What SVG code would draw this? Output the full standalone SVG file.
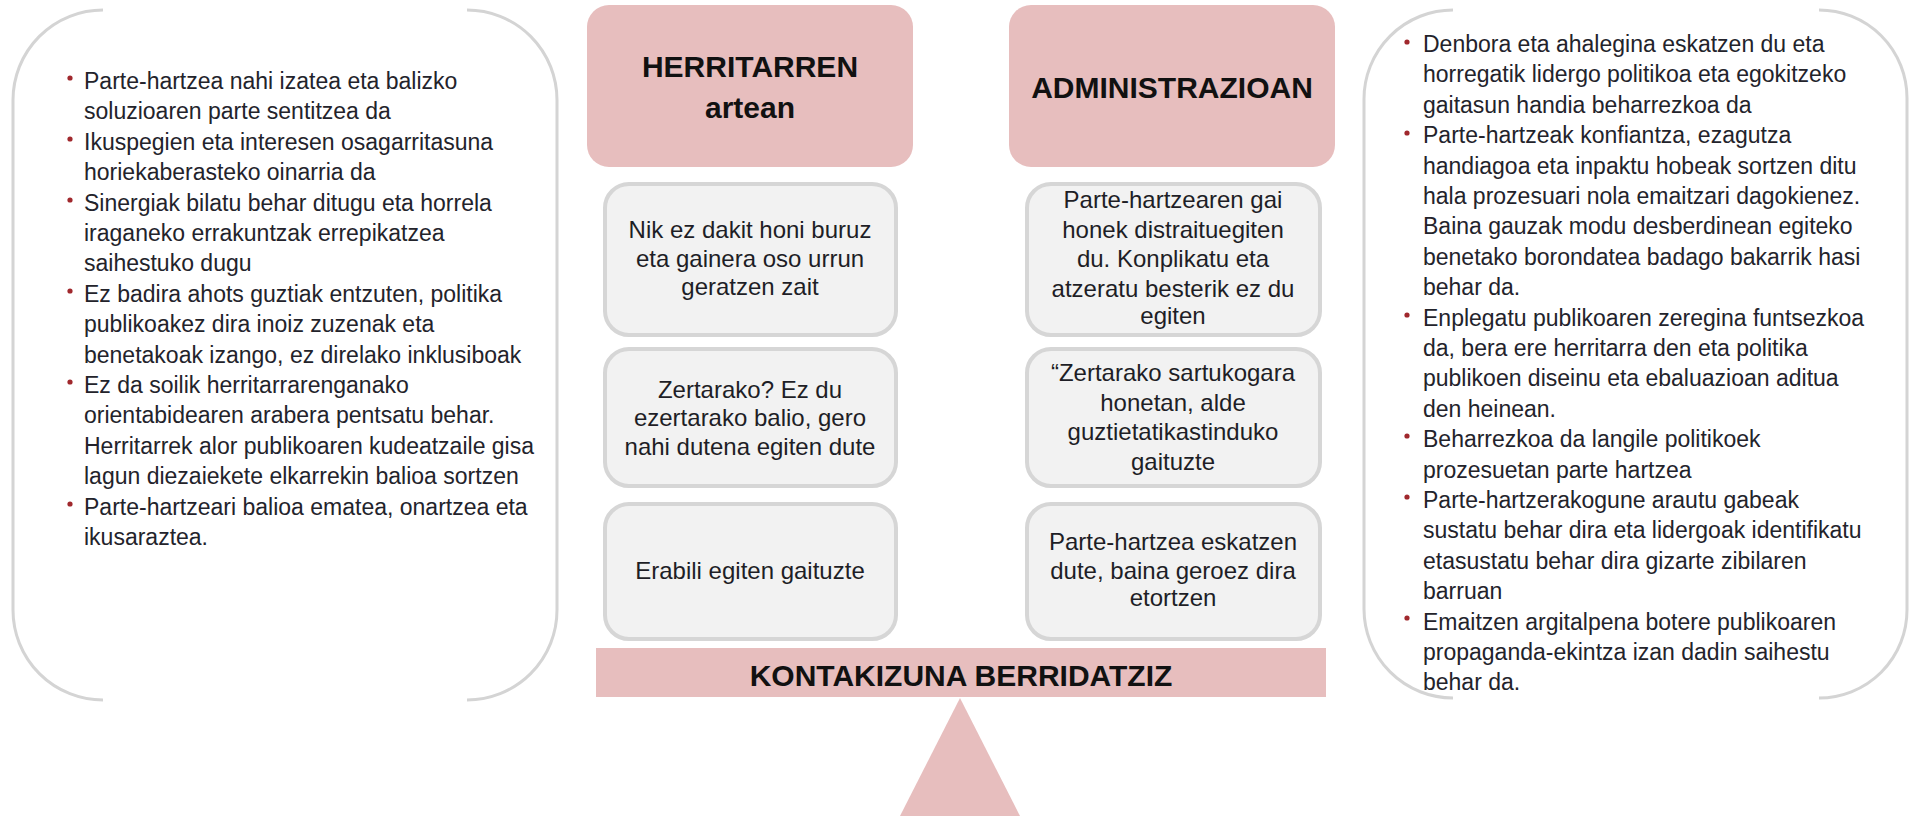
<svg xmlns="http://www.w3.org/2000/svg" width="1910" height="816" viewBox="0 0 1910 816">
<style>
  .bracket { fill: none; stroke: #d4d4d4; stroke-width: 3; }
  .body { font-family: "Liberation Sans", Arial, sans-serif; font-size: 23px; fill: #23232b; }
  .bullet { fill: #a0282d; }
  .head { fill: #e7bebe; }
  .headtxt { font-family: "Liberation Sans", Arial, sans-serif; font-size: 30px; font-weight: bold; fill: #111; text-anchor: middle; }
  .box { fill: #f2f2f2; stroke: #d6d6d6; stroke-width: 4; }
  .boxtxt { font-family: "Liberation Sans", Arial, sans-serif; font-size: 24px; fill: #1e1e26; text-anchor: middle; }
</style>
<rect x="0" y="0" width="1910" height="816" fill="#ffffff"/>

<g id="left-panel">
  <path class="bracket" d="M103,10 A90,90 0 0 0 13,100 L13,610 A90,90 0 0 0 103,700"/>
  <path class="bracket" d="M467,10 A90,90 0 0 1 557,100 L557,610 A90,90 0 0 1 467,700"/>
  <g class="bullet">
    <circle cx="70" cy="78" r="2.6"/>
    <circle cx="70" cy="139" r="2.6"/>
    <circle cx="70" cy="200" r="2.6"/>
    <circle cx="70" cy="291" r="2.6"/>
    <circle cx="70" cy="382" r="2.6"/>
    <circle cx="70" cy="504" r="2.6"/>
  </g>
  <text class="body" x="84" y="89">
    <tspan x="84" y="89">Parte-hartzea nahi izatea eta balizko</tspan>
    <tspan x="84" y="119.4">soluzioaren parte sentitzea da</tspan>
    <tspan x="84" y="149.8">Ikuspegien eta interesen osagarritasuna</tspan>
    <tspan x="84" y="180.2">horiekaberasteko oinarria da</tspan>
    <tspan x="84" y="210.6">Sinergiak bilatu behar ditugu eta horrela</tspan>
    <tspan x="84" y="241">iraganeko errakuntzak errepikatzea</tspan>
    <tspan x="84" y="271.4">saihestuko dugu</tspan>
    <tspan x="84" y="301.8">Ez badira ahots guztiak entzuten, politika</tspan>
    <tspan x="84" y="332.2">publikoakez dira inoiz zuzenak eta</tspan>
    <tspan x="84" y="362.6">benetakoak izango,  ez direlako inklusiboak</tspan>
    <tspan x="84" y="393">Ez da soilik herritarrarenganako</tspan>
    <tspan x="84" y="423.4">orientabidearen arabera pentsatu  behar.</tspan>
    <tspan x="84" y="453.8">Herritarrek alor publikoaren kudeatzaile gisa</tspan>
    <tspan x="84" y="484.2">lagun diezaiekete elkarrekin balioa sortzen</tspan>
    <tspan x="84" y="514.6">Parte-hartzeari balioa ematea,  onartzea eta</tspan>
    <tspan x="84" y="545">ikusaraztea.</tspan>
  </text>
</g>

<g id="header-herritarren">
  <rect class="head" x="587" y="5" width="326" height="162" rx="22"/>
  <text class="headtxt" x="750" y="77">HERRITARREN</text>
  <text class="headtxt" x="750" y="118">artean</text>
</g>

<g id="header-administrazioan">
  <rect class="head" x="1009" y="5" width="326" height="162" rx="22"/>
  <text class="headtxt" x="1172" y="98">ADMINISTRAZIOAN</text>
</g>

<g id="box-l1">
  <rect class="box" x="605" y="184" width="291" height="151" rx="24"/>
  <text class="boxtxt" x="750" y="238">Nik ez dakit  honi buruz</text>
  <text class="boxtxt" x="750" y="267">eta gainera oso urrun</text>
  <text class="boxtxt" x="750" y="295">geratzen zait</text>
</g>

<g id="box-l2">
  <rect class="box" x="605" y="349" width="291" height="137" rx="24"/>
  <text class="boxtxt" x="750" y="398">Zertarako? Ez du</text>
  <text class="boxtxt" x="750" y="426">ezertarako balio, gero</text>
  <text class="boxtxt" x="750" y="455">nahi dutena egiten dute</text>
</g>

<g id="box-l3">
  <rect class="box" x="605" y="504" width="291" height="135" rx="24"/>
  <text class="boxtxt" x="750" y="579">Erabili egiten gaituzte</text>
</g>

<g id="box-r1">
  <rect class="box" x="1027" y="184" width="293" height="151" rx="24"/>
  <text class="boxtxt" x="1173" y="208">Parte-hartzearen gai</text>
  <text class="boxtxt" x="1173" y="238">honek distraituegiten</text>
  <text class="boxtxt" x="1173" y="267">du. Konplikatu eta</text>
  <text class="boxtxt" x="1173" y="297">atzeratu besterik ez du</text>
  <text class="boxtxt" x="1173" y="324">egiten</text>
</g>

<g id="box-r2">
  <rect class="box" x="1027" y="349" width="293" height="137" rx="24"/>
  <text class="boxtxt" x="1173" y="381">“Zertarako sartukogara</text>
  <text class="boxtxt" x="1173" y="411">honetan, alde</text>
  <text class="boxtxt" x="1173" y="440">guztietatikastinduko</text>
  <text class="boxtxt" x="1173" y="470">gaituzte</text>
</g>

<g id="box-r3">
  <rect class="box" x="1027" y="504" width="293" height="135" rx="24"/>
  <text class="boxtxt" x="1173" y="550">Parte-hartzea eskatzen</text>
  <text class="boxtxt" x="1173" y="579">dute, baina geroez dira</text>
  <text class="boxtxt" x="1173" y="606">etortzen</text>
</g>

<g id="banner">
  <rect class="head" x="596" y="648" width="730" height="49"/>
  <text class="headtxt" x="961" y="686">KONTAKIZUNA BERRIDATZIZ</text>
</g>

<g id="fulcrum">
  <polygon class="head" points="960,698 900,816 1020,816"/>
</g>

<g id="right-panel">
  <path class="bracket" d="M1453,10 A89,89 0 0 0 1364,99 L1364,609 A89,89 0 0 0 1453,698"/>
  <path class="bracket" d="M1819,10 A88,88 0 0 1 1907,98 L1907,610 A88,88 0 0 1 1819,698"/>
  <g class="bullet">
    <circle cx="1407" cy="42" r="2.6"/>
    <circle cx="1407" cy="133" r="2.6"/>
    <circle cx="1407" cy="315" r="2.6"/>
    <circle cx="1407" cy="436" r="2.6"/>
    <circle cx="1407" cy="497" r="2.6"/>
    <circle cx="1407" cy="618" r="2.6"/>
  </g>
  <text class="body" x="1423" y="52">
    <tspan x="1423" y="52">Denbora eta ahalegina eskatzen du  eta</tspan>
    <tspan x="1423" y="82.4">horregatik lidergo politikoa eta egokitzeko</tspan>
    <tspan x="1423" y="112.8">gaitasun handia beharrezkoa da</tspan>
    <tspan x="1423" y="143.2">Parte-hartzeak konfiantza, ezagutza</tspan>
    <tspan x="1423" y="173.6">handiagoa eta inpaktu hobeak sortzen ditu</tspan>
    <tspan x="1423" y="204">hala prozesuari nola emaitzari dagokienez.</tspan>
    <tspan x="1423" y="234.4">Baina gauzak modu desberdinean egiteko</tspan>
    <tspan x="1423" y="264.8">benetako borondatea badago bakarrik hasi</tspan>
    <tspan x="1423" y="295.2">behar da.</tspan>
    <tspan x="1423" y="325.6">Enplegatu publikoaren zeregina funtsezkoa</tspan>
    <tspan x="1423" y="356">da, bera ere herritarra den eta politika</tspan>
    <tspan x="1423" y="386.4">publikoen diseinu eta ebaluazioan aditua</tspan>
    <tspan x="1423" y="416.8">den heinean.</tspan>
    <tspan x="1423" y="447.2">Beharrezkoa da langile politikoek</tspan>
    <tspan x="1423" y="477.6">prozesuetan parte hartzea</tspan>
    <tspan x="1423" y="508">Parte-hartzerakogune arautu gabeak</tspan>
    <tspan x="1423" y="538.4">sustatu behar dira eta lidergoak identifikatu</tspan>
    <tspan x="1423" y="568.8">etasustatu behar dira gizarte zibilaren</tspan>
    <tspan x="1423" y="599.2">barruan</tspan>
    <tspan x="1423" y="629.6">Emaitzen argitalpena botere publikoaren</tspan>
    <tspan x="1423" y="660">propaganda-ekintza izan dadin saihestu</tspan>
    <tspan x="1423" y="690.4">behar da.</tspan>
  </text>
</g>

<g id="connectors"></g>
</svg>
